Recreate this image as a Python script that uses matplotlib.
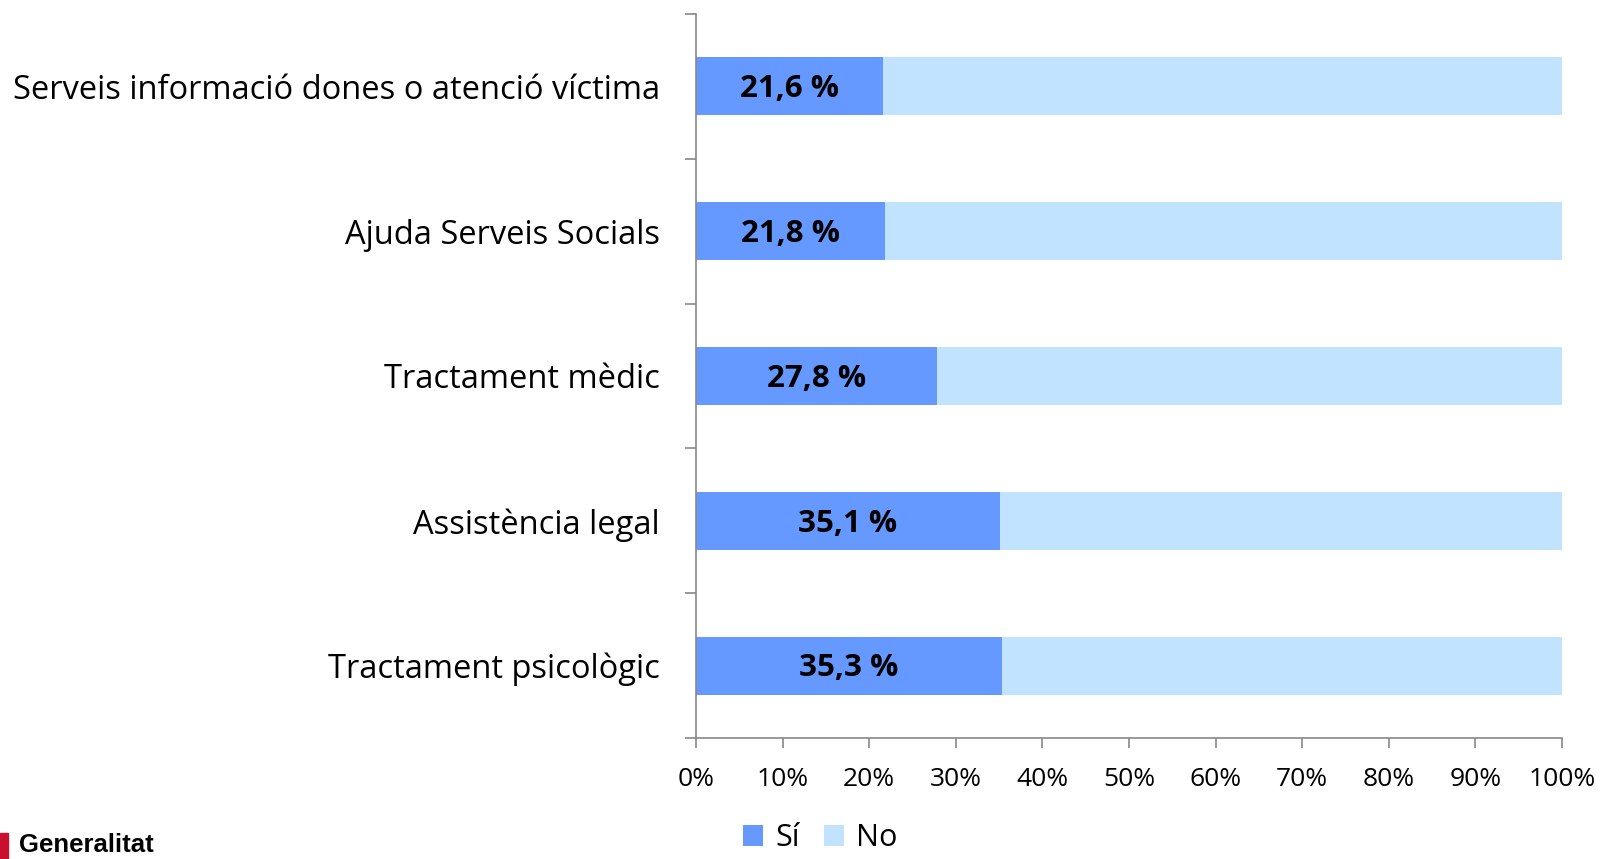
import matplotlib.pyplot as plt
from matplotlib.ticker import FixedLocator, PercentFormatter
from matplotlib.patches import Rectangle

categories = ['Serveis informació dones o atenció víctima', 'Ajuda Serveis Socials',
              'Tractament mèdic', 'Assistència legal', 'Tractament psicològic']
si_values = [21.6, 21.8, 27.8, 35.1, 35.3]
no_values = [100 - v for v in si_values]
si_labels = ['21,6 %', '21,8 %', '27,8 %', '35,1 %', '35,3 %']

plt.rcParams['font.family'] = ['Open Sans', 'DejaVu Sans']

fig = plt.figure(figsize=(16.02, 8.59), dpi=100)
ax = fig.add_axes([0.4345, 0.1409, 0.5405, 0.8428])

ypos = list(range(len(categories)))[::-1]  # first category on top
ax.barh(ypos, si_values, height=0.4, color='#6699FF', label='Sí')
ax.barh(ypos, no_values, left=si_values, height=0.4, color='#C2E3FF', label='No')

for y, v, t in zip(ypos, si_values, si_labels):
    ax.text(v / 2, y - 0.02, t, ha='center', va='center', fontsize=22.5, fontweight='bold')

ax.set_xlim(0, 100)
ax.set_ylim(-0.5, len(categories) - 0.5)
ax.set_yticks(ypos)
ax.set_yticklabels(categories, fontsize=23.5)
ax.yaxis.set_minor_locator(FixedLocator([i - 0.5 for i in range(len(categories) + 1)]))
ax.tick_params(axis='y', which='major', length=0, pad=26)
ax.tick_params(axis='y', which='minor', length=8, color='#888888', width=1.2)
ax.set_xticks(range(0, 101, 10))
ax.xaxis.set_major_formatter(PercentFormatter(decimals=0))
ax.tick_params(axis='x', length=7, color='#888888', width=1.2, labelsize=19, pad=14)

for s in ['top', 'right']:
    ax.spines[s].set_visible(False)
for s in ['left', 'bottom']:
    ax.spines[s].set_color('#888888')
    ax.spines[s].set_linewidth(1.2)

fig.legend(loc='center', bbox_to_anchor=(0.512, 0.024), ncol=2, frameon=False,
           fontsize=22, handlelength=0.65, handleheight=0.65, handletextpad=0.4,
           columnspacing=0.8, borderpad=0.1)

# logo fragment in bottom-left corner
fig.patches.append(Rectangle((0, 0.0), 0.005, 0.03, transform=fig.transFigure, color='#C8102E'))
fig.text(0.012, 0.002, 'Generalitat', fontsize=18.5, fontweight='bold',
         family=['Liberation Sans', 'DejaVu Sans'], va='bottom')

fig.savefig('out.png', dpi=100)
